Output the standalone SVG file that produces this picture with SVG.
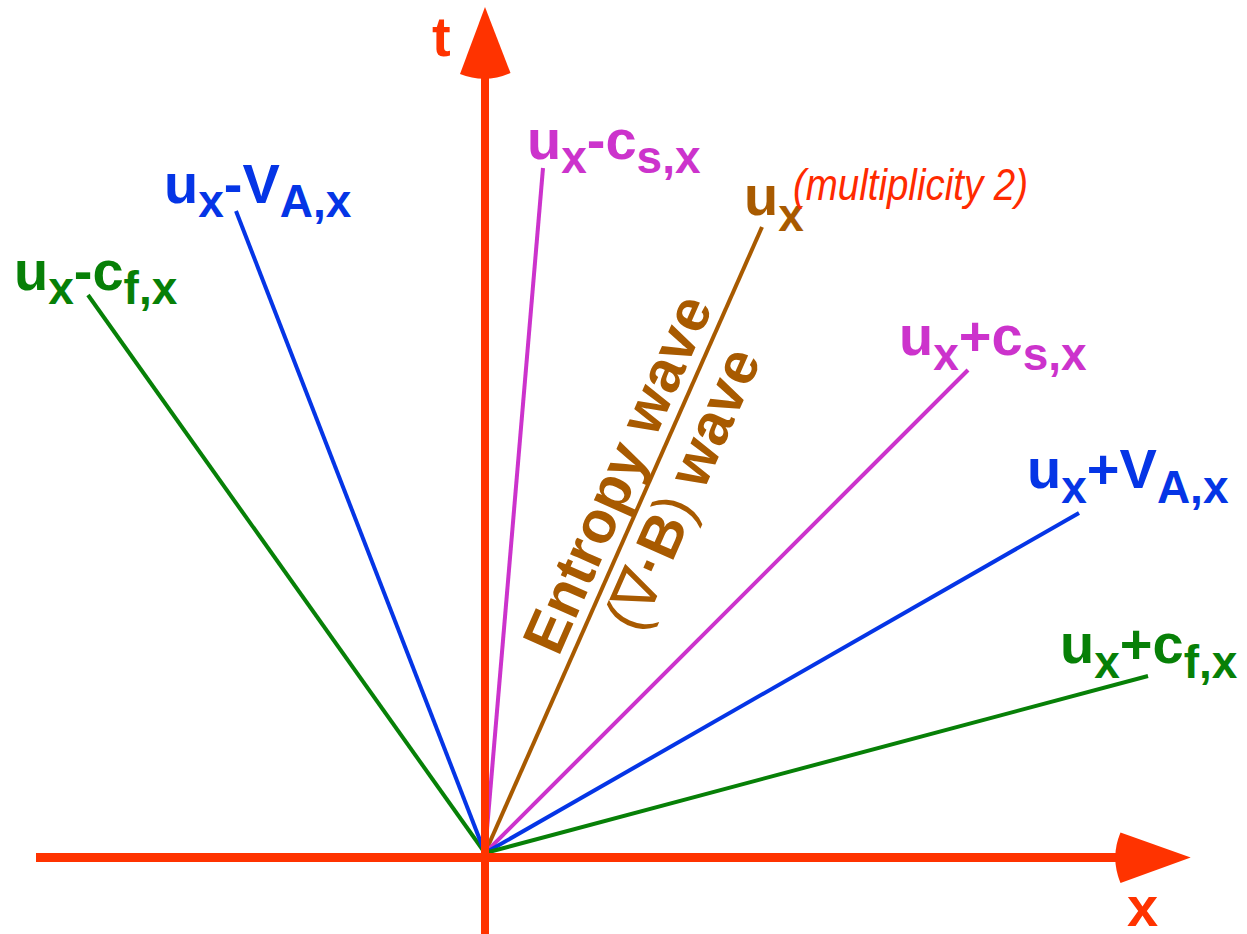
<svg xmlns="http://www.w3.org/2000/svg" width="1247" height="934" viewBox="0 0 1247 934">
<style>
.lbl{font-family:"Liberation Sans",Arial,sans-serif;font-weight:bold;font-size:56px}
.sub{font-size:46px}
.ax{fill:#ff3300}
.blue{fill:#0535e6}
.green{fill:#078007}
.mag{fill:#cc33cc}
.brown{fill:#a85a00}
.w{stroke-width:4;fill:none}
.rot{font-size:59px}
</style>
<rect width="1247" height="934" fill="#ffffff"/>
<g id="connectors">
<line class="w" x1="485" y1="853" x2="88" y2="295" stroke="#078007"/>
<line class="w" x1="485" y1="853" x2="236" y2="211" stroke="#0535e6"/>
<line class="w" x1="485" y1="853" x2="543" y2="168" stroke="#cc33cc"/>
<line class="w" x1="485" y1="853" x2="762" y2="227" stroke="#a85a00"/>
<line class="w" x1="485" y1="853" x2="968" y2="370" stroke="#cc33cc"/>
<line class="w" x1="485" y1="853" x2="1079" y2="513" stroke="#0535e6"/>
<line class="w" x1="485" y1="853" x2="1148" y2="676" stroke="#078007"/>
</g>
<g id="axes">
<line x1="485" y1="70" x2="485" y2="934" stroke="#ff3300" stroke-width="8"/>
<line x1="36" y1="857.5" x2="1122" y2="857.5" stroke="#ff3300" stroke-width="9"/>
<path class="ax" d="M485,7 L510.5,73 Q485,84 460,74 Z"/>
<path class="ax" d="M1190.7,857.5 L1120.5,832.5 Q1110,857.5 1120.5,883 Z"/>
<text class="lbl ax" x="432" y="56">t</text>
<text class="lbl ax" x="1127" y="926">x</text>
</g>
<g id="n-ucf-minus">
<text class="lbl green" x="14" y="290">u<tspan class="sub" dy="14">x</tspan><tspan dy="-14">-c</tspan><tspan class="sub" dy="14">f,x</tspan></text>
</g>
<g id="n-uva-minus">
<text class="lbl blue" x="164" y="203">u<tspan class="sub" dy="14">x</tspan><tspan dy="-14">-V</tspan><tspan class="sub" dy="14">A,x</tspan></text>
</g>
<g id="n-ucs-minus">
<text class="lbl mag" x="527" y="159">u<tspan class="sub" dy="14">x</tspan><tspan dy="-14">-c</tspan><tspan class="sub" dy="14">s,x</tspan></text>
</g>
<g id="n-ux">
<text class="lbl brown" x="744" y="215">u<tspan class="sub" dy="16">x</tspan></text>
<text x="793" y="200" fill="#ff2a00" font-family="'Liberation Sans',Arial,sans-serif" font-style="italic" font-size="44" textLength="235" lengthAdjust="spacingAndGlyphs">(multiplicity 2)</text>
</g>
<g id="n-ucs-plus">
<text class="lbl mag" x="899" y="355">u<tspan class="sub" dy="15">x</tspan><tspan dy="-15">+c</tspan><tspan class="sub" dy="15">s,x</tspan></text>
</g>
<g id="n-uva-plus">
<text class="lbl blue" x="1027" y="488">u<tspan class="sub" dy="15">x</tspan><tspan dy="-15">+V</tspan><tspan class="sub" dy="15">A,x</tspan></text>
</g>
<g id="n-ucf-plus">
<text class="lbl green" x="1060" y="663">u<tspan class="sub" dy="15">x</tspan><tspan dy="-15">+c</tspan><tspan class="sub" dy="15">f,x</tspan></text>
</g>
<g id="n-entropy">
<text class="lbl brown rot" text-anchor="middle" transform="translate(636,482) rotate(-66.2)">Entropy wave</text>
<text class="lbl brown rot" text-anchor="middle" transform="translate(701,497) rotate(-66.2)"><tspan font-weight="normal">(∇</tspan>·B<tspan font-weight="normal">)</tspan> wave</text>
</g>
</svg>
